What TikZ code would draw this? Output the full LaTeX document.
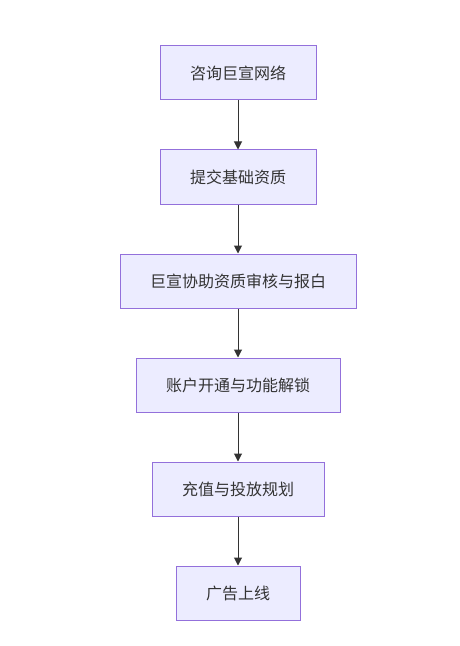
\documentclass[tikz,border=0pt]{standalone}
\usepackage{fontspec}
\newfontfamily\cjk{Noto Sans CJK SC}
\usetikzlibrary{arrows.meta}
\definecolor{boxfill}{HTML}{ECECFF}
\definecolor{boxline}{HTML}{9370DB}
\definecolor{arrowc}{HTML}{333333}
\begin{document}
\begin{tikzpicture}[x=1bp,y=-1bp,
  stepbox/.style={draw=boxline,fill=boxfill,line width=1bp,rectangle,inner sep=0pt,
    minimum height=54bp,font=\cjk\fontsize{16bp}{19bp}\selectfont,text=arrowc},
  flow/.style={draw=arrowc,line width=1bp,-{Triangle[length=8bp,width=8bp]}}]
\useasboundingbox (0,0) rectangle (460,646);
\node[stepbox,minimum width=156bp] (n1) at (238,73) {咨询巨宣网络};
\node[stepbox,minimum width=156bp] (n2) at (238,177) {提交基础资质};
\node[stepbox,minimum width=236bp] (n3) at (238,281) {巨宣协助资质审核与报白};
\node[stepbox,minimum width=204bp] (n4) at (238,385) {账户开通与功能解锁};
\node[stepbox,minimum width=172bp] (n5) at (238,489) {充值与投放规划};
\node[stepbox,minimum width=124bp] (n6) at (238,593) {广告上线};
\draw[flow] (n1) -- (n2);
\draw[flow] (n2) -- (n3);
\draw[flow] (n3) -- (n4);
\draw[flow] (n4) -- (n5);
\draw[flow] (n5) -- (n6);
\end{tikzpicture}
\end{document}
